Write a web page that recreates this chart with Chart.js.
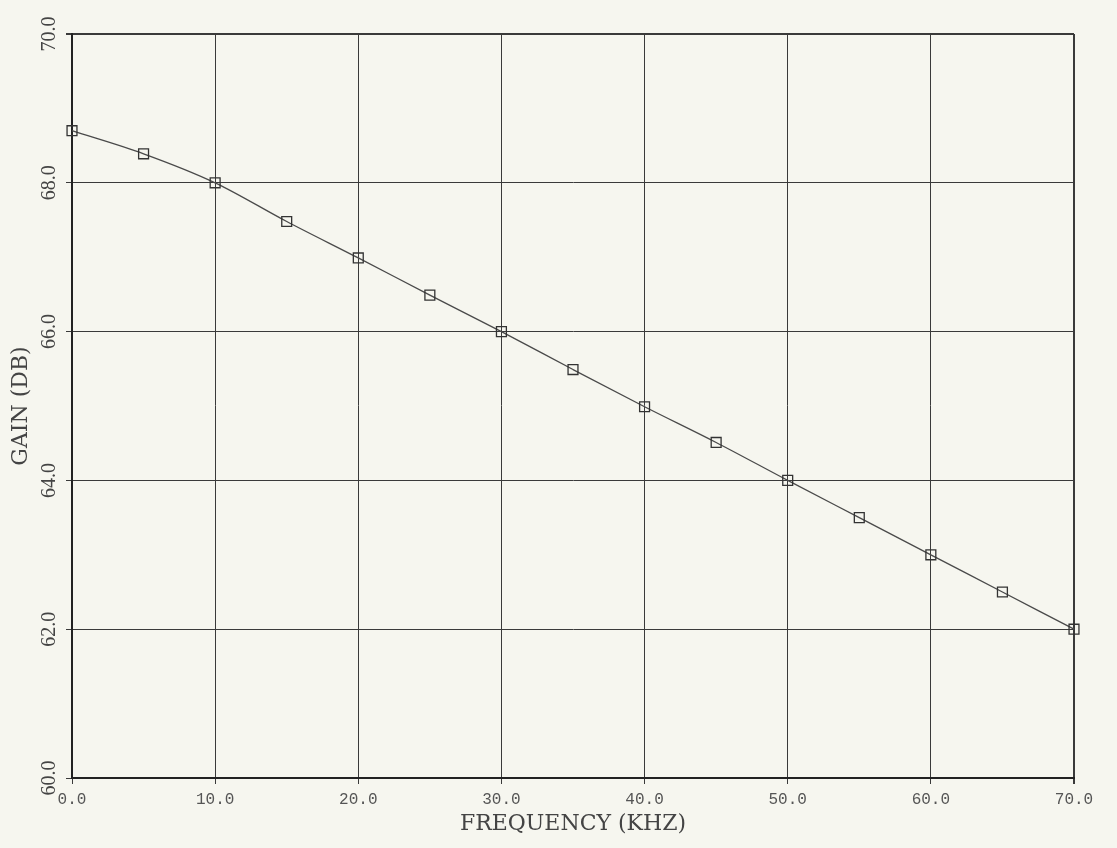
<!DOCTYPE html>
<html>
<head>
<meta charset="utf-8">
<script src="https://cdn.jsdelivr.net/npm/chart.js@4"></script>
<style>
    body { margin: 0; background: #f6f6ef; }
    canvas { display: block; }
</style>
</head>
<body>
<canvas id="gainChart" width="1117" height="848"></canvas>
<script>
// Gain vs frequency
const frequencies = [0, 5, 10, 15, 20, 25, 30, 35, 40, 45, 50, 55, 60, 65, 70];
const gains = [68.7, 68.39, 68.0, 67.48, 66.99, 66.49, 66.0, 65.49, 64.99, 64.51, 64.0, 63.5, 63.0, 62.5, 62.0];

const xTitle = 'FREQUENCY (KHZ)';
const yTitle = 'GAIN (DB)';

const ink = '#3a3a3a';
const xTickFont = { family: '"Liberation Mono", monospace', size: 16 };
const yTickFont = { family: '"Liberation Serif", serif', size: 20 };
const titleFont = { family: '"DejaVu Serif", serif', size: 22 };

const points = frequencies.map((f, i) => ({ x: f, y: gains[i] }));

new Chart(document.getElementById('gainChart'), {
    type: 'line',
    data: {
        datasets: [{
            data: points,
            clip: false,
            borderColor: '#4a4a4a',
            borderWidth: 1.3,
            cubicInterpolationMode: 'monotone',
            pointStyle: 'rect',
            pointRadius: 7,
            pointBorderWidth: 1.3,
            pointBorderColor: '#333',
            pointBackgroundColor: 'rgba(0,0,0,0)',
            fill: false
        }]
    },
    options: {
        responsive: false,
        animation: false,
        layout: {
            padding: { left: 0, top: 34, right: 43, bottom: 0 }
        },
        plugins: {
            legend: { display: false },
            tooltip: { enabled: false }
        },
        scales: {
            x: {
                type: 'linear',
                min: 0,
                max: 70,
                afterFit(scale) { scale.height = 70; },
                ticks: {
                    stepSize: 10,
                    color: '#555',
                    font: xTickFont,
                    padding: 6,
                    maxRotation: 0,
                    callback: v => v.toFixed(1)
                },
                grid: {
                    color: ink,
                    lineWidth: c => (c.tick && c.tick.value === 70 ? 2 : 1),
                    tickLength: 6
                },
                border: { color: '#222', width: 2 },
                title: {
                    display: true,
                    text: xTitle,
                    color: '#444',
                    font: titleFont,
                    padding: { top: 0, bottom: 11 }
                }
            },
            y: {
                min: 60,
                max: 70,
                afterFit(scale) { scale.width = 72; },
                ticks: {
                    stepSize: 2,
                    color: '#444',
                    font: yTickFont,
                    minRotation: 90,
                    maxRotation: 90,
                    crossAlign: 'center',
                    padding: -1,
                    callback: v => v.toFixed(1)
                },
                grid: {
                    color: ink,
                    lineWidth: c => (c.tick && c.tick.value === 70 ? 2 : 1),
                    tickLength: 6
                },
                border: { color: '#222', width: 2 },
                title: {
                    display: true,
                    text: yTitle,
                    color: '#444',
                    font: titleFont,
                    padding: { top: 8, bottom: 0 }
                }
            }
        }
    }
});
</script>
</body>
</html>
